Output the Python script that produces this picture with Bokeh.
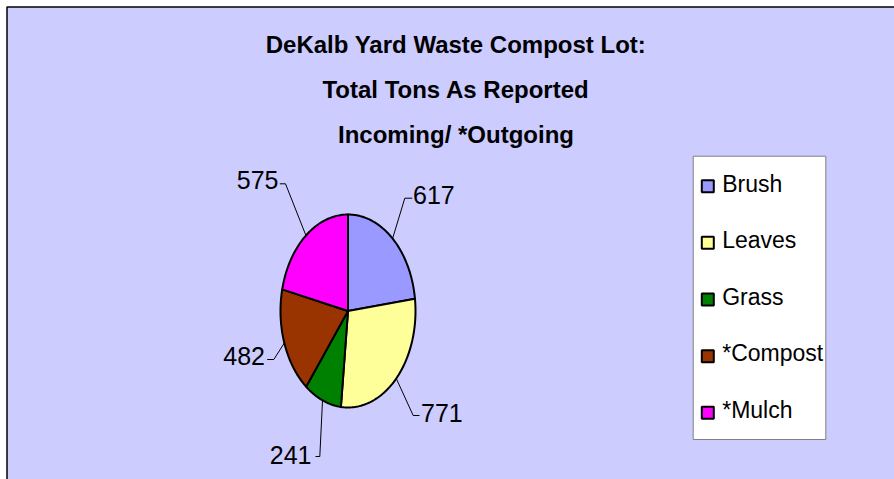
import numpy as np
from bokeh.plotting import figure
from bokeh.models import Range1d
from bokeh.core.properties import value
from bokeh.embed import file_html
from bokeh.resources import INLINE

# ---- data ----
categories = ["Brush", "Leaves", "Grass", "*Compost", "*Mulch"]
tons = [617, 771, 241, 482, 575]
title_lines = ["DeKalb Yard Waste Compost Lot:", "Total Tons As Reported", "Incoming/ *Outgoing"]

# ---- styles / layout ----
colors = ["#9999FF", "#FFFF99", "#008000", "#993300", "#FF00FF"]
BG = "#CCCCFF"
FONT = "Liberation Sans"
W, H = 894, 479
TY = -11  # text vertical correction
cx, cy, ra, rb = 347.5, 310.5, 67.5, 96.5
# leader-line elbow / end points and label anchors (pixel layout)
elbow = [(404.3, 197.7), (412.7, 415.0), (319.3, 456.0), (273.3, 359.0), (285.0, 183.3)]
lend = [(411.7, 197.7), (419.0, 415.0), (315.0, 456.0), (266.7, 359.0), (279.3, 183.3)]
lab_pos = [(412.5, 205.0), (420.5, 423.3), (311.0, 465.0), (264.5, 366.7), (278.0, 190.7)]
lab_align = ["left", "left", "right", "right", "right"]

p = figure(width=W, height=H, x_range=Range1d(0, W), y_range=Range1d(H, 0),
           output_backend="svg", toolbar_location=None, min_border=0)
p.axis.visible = False
p.grid.visible = False
p.background_fill_color = "white"
p.border_fill_color = "white"
p.outline_line_color = None

# chart area with border (left & top visible)
p.quad(left=[6.5], top=[6.5], right=[W + 10], bottom=[H + 10],
       fill_color=BG, line_color="black", line_width=1.5)

# title
p.text(x=[455.5] * 3, y=[55 + TY, 100 + TY, 145 + TY], text=title_lines, text_align="center",
       text_baseline="alphabetic", text_font=value(FONT), text_font_style="bold",
       text_font_size="24px", text_color="black")

# pie wedges as elliptical polygons
vals = np.array(tons, dtype=float)
frac = vals / vals.sum()
ends = np.cumsum(frac) * 2 * np.pi
starts = ends - frac * 2 * np.pi
xs, ys = [], []
for s, e in zip(starts, ends):
    t = np.linspace(s, e, 80)
    xs.append([cx] + list(cx + ra * np.sin(t)) + [cx])
    ys.append([cy] + list(cy - rb * np.cos(t)) + [cy])
p.patches(xs=xs, ys=ys, fill_color=colors, line_color="black", line_width=2,
          line_join="round")

# leader lines
mids = (starts + ends) / 2
lx, ly = [], []
for m, el, en in zip(mids, elbow, lend):
    lx.append([cx + ra * np.sin(m), el[0], en[0]])
    ly.append([cy - rb * np.cos(m), el[1], en[1]])
p.multi_line(xs=lx, ys=ly, line_color="black", line_width=1)

# labels
for (x, y), al, v in zip(lab_pos, lab_align, tons):
    p.text(x=[x], y=[y + TY], text=[str(v)], text_align=al, text_baseline="alphabetic",
           text_font=value(FONT), text_font_size="25px", text_color="black")

# legend
p.quad(left=[692.7], right=[825.3], top=[155.7], bottom=[439.0],
       fill_color="white", line_color="#808080", line_width=1)
ly0, dy = 185.7, 56.65
ycs = [ly0 + i * dy for i in range(len(categories))]
p.rect(x=[707.3] * len(categories), y=ycs, width=12, height=12,
       fill_color=colors, line_color="black", line_width=2)
p.text(x=[721.7] * len(categories), y=[yc + 8.3 + TY for yc in ycs], text=categories,
       text_align="left", text_baseline="alphabetic", text_font=value(FONT),
       text_font_size="23px", text_color="black")

open("out.html", "w").write(file_html(p, INLINE))
